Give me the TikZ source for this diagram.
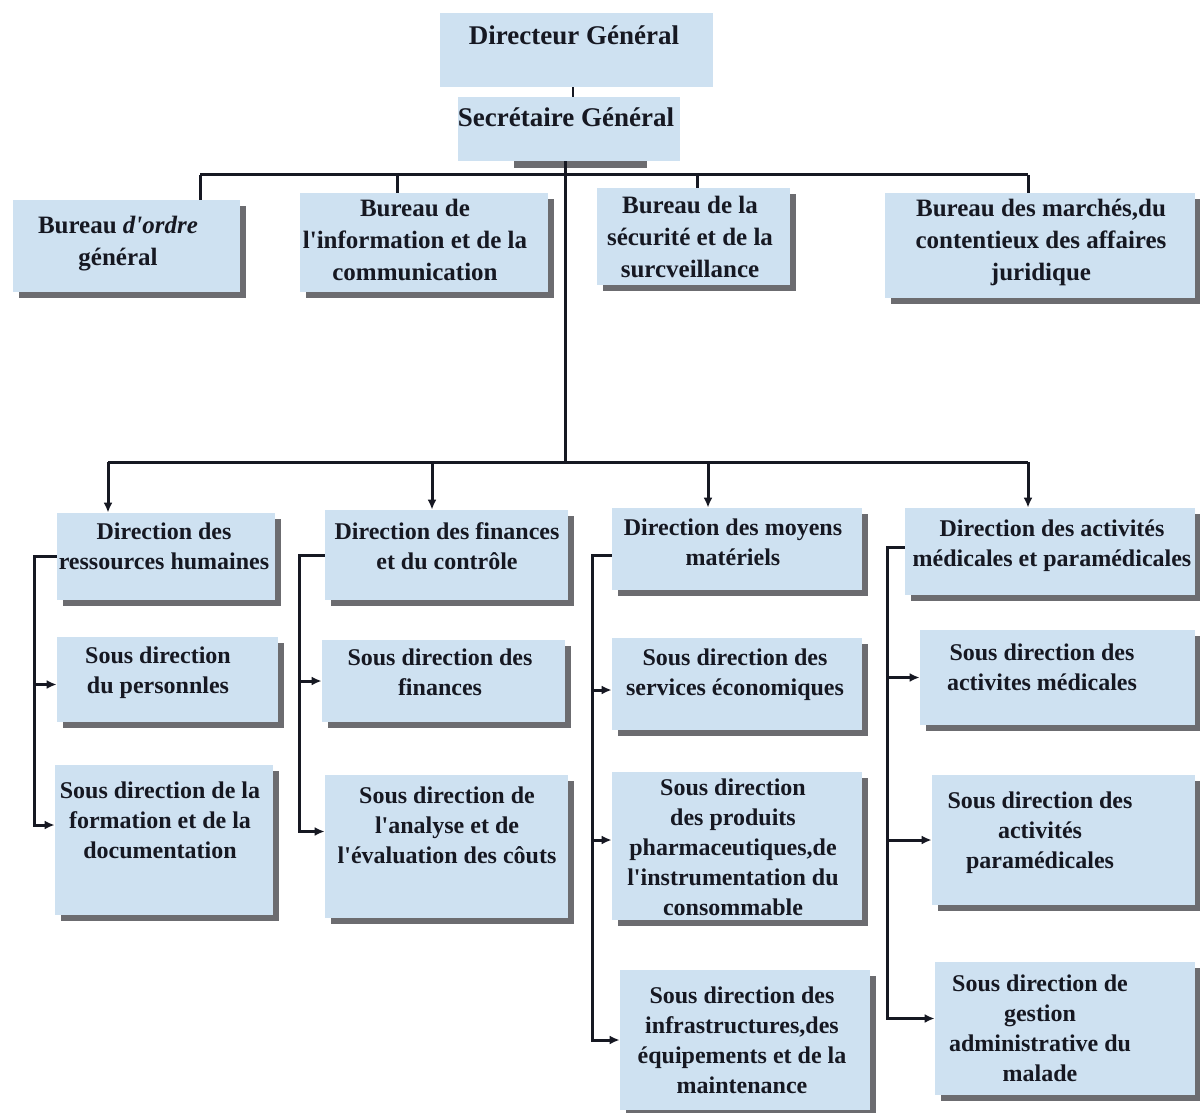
\documentclass[tikz,border=0pt]{standalone}
\usepackage{fontspec}
\setmainfont{Liberation Serif}
\usetikzlibrary{arrows.meta,shadows}

\definecolor{boxblue}{RGB}{206,225,241}
\definecolor{shadowgray}{RGB}{108,108,112}
\definecolor{inkdark}{RGB}{22,24,34}

\newcommand{\apos}{\textquotesingle}

\tikzset{
  orgbox/.style={fill=boxblue, draw=none, inner sep=0pt,
    drop shadow={shadow xshift=3pt, shadow yshift=-3pt, fill=shadowgray, opacity=1}},
  plainbox/.style={fill=boxblue, draw=none, inner sep=0pt},
  lbl/.style={anchor=north, align=center, inner sep=0pt, text=inkdark, yshift=-1.5pt,
    font=\bfseries\fontsize{12}{15}\selectfont},
  bureaulbl/.style={lbl, font=\bfseries\fontsize{12.5}{16}\selectfont},
  headlbl/.style={lbl, font=\bfseries\fontsize{13.5}{16}\selectfont},
  wire/.style={line width=1.5pt, draw=inkdark},
  feed/.style={wire, -{Latex[length=5pt,width=4.5pt]}},
}

% box given by its name and corners (left, top, right, bottom), in pixels
\newcommand{\orgbox}[6][orgbox]{%
  \node[#1, minimum width={(#5-#3)*0.5pt}, minimum height={(#6-#4)*0.5pt}]
    (#2) at ({(#3+#5)/2},{(#4+#6)/2}) {};}

\begin{document}
\begin{tikzpicture}[x=0.5pt, y=-0.5pt]
\useasboundingbox (0,0) rectangle (1200,1113);
\fill[white] (0,0) rectangle (1200,1113);

% ---- top management
\orgbox[plainbox]{dg}{440}{13}{713}{87}
\fill[shadowgray] (514,161) rectangle (647,168);
\orgbox[plainbox]{sg}{458}{97}{680}{161}
\node[headlbl] (dg-t) at (574,22) {Directeur Général};
\node[headlbl] (sg-t) at (566,104) {Secrétaire Général};

% ---- bureaux
\orgbox{bo}{13}{200}{240}{292}
\orgbox{bi}{300}{193}{548}{292}
\orgbox{bs}{597}{188}{790}{285}
\orgbox{bm}{885}{193}{1195}{298}
\node[bureaulbl] (bo-t) at (118,213) {Bureau \textit{d\apos ordre}\\général};
\node[bureaulbl] (bi-t) at (415,196) {Bureau de\\l\apos information et de la\\communication};
\node[bureaulbl] (bs-t) at (690,193) {Bureau de la\\sécurité et de la\\surcveillance};
\node[bureaulbl] (bm-t) at (1041,196) {Bureau des marchés,du\\contentieux des affaires\\juridique};

% ---- directions
\orgbox{drh}{57}{513}{275}{600}
\orgbox{dfc}{325}{510}{568}{600}
\orgbox{dmm}{612}{508}{862}{590}
\orgbox{dam}{905}{508}{1195}{595}
\node[lbl] (drh-t) at (164,519) {Direction des\\ressources humaines};
\node[lbl] (dfc-t) at (447,519) {Direction des finances\\et du contrôle};
\node[lbl] (dmm-t) at (733,515) {Direction des moyens\\matériels};
\node[lbl] (dam-t) at (1052,516) {Direction des activités\\médicales et paramédicales};

% ---- sub-directions, column 1
\orgbox{sdp}{57}{637}{278}{722}
\orgbox{sdf}{55}{765}{273}{915}
\node[lbl] (sdp-t) at (158,643) {Sous direction\\du personnles};
\node[lbl] (sdf-t) at (160,778) {Sous direction de la\\formation et de la\\documentation};

% ---- sub-directions, column 2
\orgbox{sfi}{322}{640}{565}{722}
\orgbox{san}{325}{775}{568}{918}
\node[lbl] (sfi-t) at (440,645) {Sous direction des\\finances};
\node[lbl] (san-t) at (447,783) {Sous direction de\\l\apos analyse et de\\l\apos évaluation des côuts};

% ---- sub-directions, column 3
\orgbox{sse}{612}{638}{862}{730}
\orgbox{spp}{612}{772}{862}{920}
\orgbox{sie}{620}{970}{870}{1110}
\node[lbl] (sse-t) at (735,645) {Sous direction des\\services économiques};
\node[lbl] (spp-t) at (733,775) {Sous direction\\des produits\\pharmaceutiques,de\\l\apos instrumentation du\\consommable};
\node[lbl] (sie-t) at (742,983) {Sous direction des\\infrastructures,des\\équipements et de la\\maintenance};

% ---- sub-directions, column 4
\orgbox{sam}{920}{630}{1195}{725}
\orgbox{sap}{932}{775}{1195}{905}
\orgbox{sgm}{935}{962}{1195}{1095}
\node[lbl] (sam-t) at (1042,640) {Sous direction des\\activites médicales};
\node[lbl] (sap-t) at (1040,788) {Sous direction des\\activités\\paramédicales};
\node[lbl] (sgm-t) at (1040,971) {Sous direction de\\gestion\\administrative du\\malade};

% ---- junction points of the main trunk and the two buses
\coordinate (j1) at (565,175);
\coordinate (j2) at (565,462);
\coordinate (t1) at (200,175);
\coordinate (t2) at (397,175);
\coordinate (t3) at (697,175);
\coordinate (t4) at (1028,175);
\coordinate (b1) at (108,462);
\coordinate (b2) at (432,462);
\coordinate (b3) at (708,462);
\coordinate (b4) at (1028,462);

% ---- connectors
\draw[wire, line width=1pt] (dg.south -| 573,0) -- (sg.north -| 573,0);
\draw[wire] (sg.south -| j1) -- (j2);
\draw[wire] (t1) -- (t4);
\draw[wire] (t1) -- (t1 |- bo.north);
\draw[wire] (t2) -- (t2 |- bi.north);
\draw[wire] (t3) -- (t3 |- bs.north);
\draw[wire] (t4) -- (t4 |- bm.north);

\draw[wire] (b1) -- (b4);
\draw[feed] (b1) -- (b1 |- drh.north);
\draw[feed] (b2) -- (b2 |- dfc.north);
\draw[feed] (b3) -- (b3 |- dmm.north);
\draw[feed] (b4) -- (b4 |- dam.north);

\draw[feed] (drh.west) -- ++(-22,0) |- ([yshift=-2.5pt]sdp.west);
\draw[feed] (drh.west) -- ++(-22,0) |- ([yshift=7.5pt]sdf.west);

\draw[feed] (dfc.west) -- ++(-25,0) |- (sfi.west);
\draw[feed] (dfc.west) -- ++(-25,0) |- ([yshift=7.5pt]san.west);

\draw[feed] ([yshift=-3pt]dmm.west) -- ++(-19,0) |- ([yshift=-3pt]sse.west);
\draw[feed] ([yshift=-3pt]dmm.west) -- ++(-19,0) |- ([yshift=3pt]spp.west);
\draw[feed] ([yshift=-3pt]dmm.west) -- ++(-19,0) |- (sie.west);

\draw[feed] ([yshift=2pt]dam.west) -- ++(-17,0) |- (sam.west);
\draw[feed] ([yshift=2pt]dam.west) -- ++(-17,0) |- (sap.west);
\draw[feed] ([yshift=2pt]dam.west) -- ++(-17,0) |- ([yshift=5pt]sgm.west);
\end{tikzpicture}
\end{document}
